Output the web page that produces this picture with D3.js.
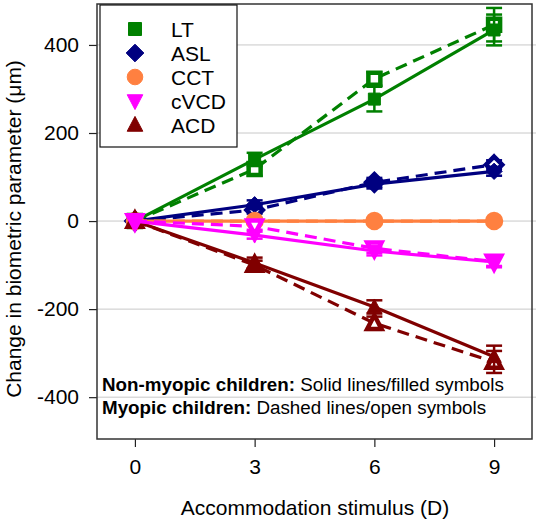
<!DOCTYPE html>
<html><head><meta charset="utf-8">
<script src="https://cdn.jsdelivr.net/npm/d3@7"></script>
<style>body{margin:0;background:#fff}svg{display:block}text{font-family:Arial,"Liberation Sans",sans-serif}</style>
</head><body><svg id="c" width="536" height="521"></svg>
<script>
const stimulus = [0, 3, 6, 9];
const seriesNames = ["LT", "ASL", "CCT", "cVCD", "ACD"];
const seriesColors = ["#008000", "#000080", "#FF8040", "#FF00FF", "#800000"];
const seriesSymbols = ["square", "diamond", "circle", "down", "up"];
// non-myopic (solid, filled)
const ltNon = [0, 140, 277, 434];
const aslNon = [0, 37, 84, 113];
const cctNon = [0, 0, 0, 0];
const cvcdNon = [0, -32, -68, -93];
const acdNon = [0, -95, -195, -308];
const ltNonErr = [0, 15, 28, 35];
const aslNonErr = [0, 10, 10, 10];
const cctNonErr = [0, 2, 2, 2];
const cvcdNonErr = [0, 8, 10, 12];
const acdNonErr = [0, 12, 15, 25];
// myopic (dashed, open)
const ltMyo = [0, 118, 323, 446];
const aslMyo = [0, 25, 88, 128];
const cctMyo = [0, 0, 0, 0];
const cvcdMyo = [0, -12, -62, -92];
const acdMyo = [0, -100, -232, -320];
const ltMyoErr = [0, 15, 15, 38];
const aslMyoErr = [0, 8, 10, 10];
const cctMyoErr = [0, 2, 2, 2];
const cvcdMyoErr = [0, 8, 10, 10];
const acdMyoErr = [0, 10, 15, 25];
const yTicks = [-400, -200, 0, 200, 400];

const nonVals = [ltNon, aslNon, cctNon, cvcdNon, acdNon];
const nonErrs = [ltNonErr, aslNonErr, cctNonErr, cvcdNonErr, acdNonErr];
const myoVals = [ltMyo, aslMyo, cctMyo, cvcdMyo, acdMyo];
const myoErrs = [ltMyoErr, aslMyoErr, cctMyoErr, cvcdMyoErr, acdMyoErr];

const svg = d3.select("#c");
const L = 97, R = 532, T = 4, B = 439;
const x = d3.scaleLinear().domain([-0.95, 9.95]).range([L, R]);
const y = d3.scaleLinear().domain([-495, 493]).range([B, T]);

// gridlines
svg.append("g").selectAll("line").data(yTicks).join("line")
  .attr("x1", L).attr("x2", 536).attr("y1", d => y(d)).attr("y2", d => y(d))
  .attr("stroke", "#c8c8c8").attr("stroke-width", 1);

// axes
const yAxis = svg.append("g").attr("transform", `translate(${L},0)`)
  .call(d3.axisLeft(y).tickValues(yTicks).tickFormat(d => String(d)).tickSize(8).tickPadding(10));
const xAxis = svg.append("g").attr("transform", `translate(0,${B})`)
  .call(d3.axisBottom(x).tickValues(stimulus).tickFormat(d => String(d)).tickSize(8).tickPadding(12));
[yAxis, xAxis].forEach(a => {
  a.select(".domain").remove();
  a.selectAll("line").attr("stroke", "#222").attr("stroke-width", 1.2);
  a.selectAll("text").attr("font-size", 21).attr("fill", "#000");
});

function symPath(type, cx, cy, s) {
  const h = s / 2;
  if (type === "square") return `M${cx-h},${cy-h}h${s}v${s}h${-s}Z`;
  if (type === "diamond") { const d = s * 0.68; return `M${cx},${cy-d}L${cx+d},${cy}L${cx},${cy+d}L${cx-d},${cy}Z`; }
  if (type === "up") { const a = s * 0.6; return `M${cx},${cy-a*1.1}L${cx+a},${cy+a*0.8}L${cx-a},${cy+a*0.8}Z`; }
  if (type === "down") { const a = s * 0.6; return `M${cx},${cy+a*1.1}L${cx+a},${cy-a*0.8}L${cx-a},${cy-a*0.8}Z`; }
  return null;
}
function drawSym(g, type, cx, cy, s, color, open) {
  if (type === "circle") {
    g.append("circle").attr("cx", cx).attr("cy", cy).attr("r", s * 0.6)
      .attr("fill", open ? "#fff" : color).attr("stroke", color).attr("stroke-width", open ? 4 : 1);
  } else {
    g.append("path").attr("d", symPath(type, cx, cy, s))
      .attr("fill", open ? "#fff" : color).attr("stroke", color)
      .attr("stroke-width", open ? 4.5 : 1).attr("stroke-linejoin", "miter");
  }
}

const plot = svg.append("g");
const line = d3.line().x((d, i) => x(stimulus[i])).y(d => y(d));
const order = [0, 1, 2, 4, 3];
order.forEach(k => {
  const c = seriesColors[k];
  const g = plot.append("g");
  [[myoVals[k], myoErrs[k], true], [nonVals[k], nonErrs[k], false]].forEach(([vals, errs, open]) => {
    g.append("path").datum(vals).attr("d", line).attr("fill", "none")
      .attr("stroke", c).attr("stroke-width", 3.2)
      .attr("stroke-dasharray", open ? "12,7" : null);
    vals.forEach((v, i) => {
      if (errs[i] > 0) {
        const cx = x(stimulus[i]);
        g.append("line").attr("x1", cx).attr("x2", cx).attr("y1", y(v - errs[i])).attr("y2", y(v + errs[i]))
          .attr("stroke", c).attr("stroke-width", 2.5);
        [v - errs[i], v + errs[i]].forEach(e => g.append("line").attr("x1", cx - 8).attr("x2", cx + 8)
          .attr("y1", y(e)).attr("y2", y(e)).attr("stroke", c).attr("stroke-width", 2.5));
      }
      drawSym(g, seriesSymbols[k], x(stimulus[i]), y(v), 12, c, open);
    });
  });
});

// plot frame
svg.append("rect").attr("x", L).attr("y", T).attr("width", R - L).attr("height", B - T)
  .attr("fill", "none").attr("stroke", "#333").attr("stroke-width", 1.5);

// legend
const lg = svg.append("g");
lg.append("rect").attr("x", 100).attr("y", 5).attr("width", 137).attr("height", 142)
  .attr("fill", "#fff").attr("stroke", "#111").attr("stroke-width", 1.2);
seriesNames.forEach((n, i) => {
  const cy = 29 + i * 24;
  drawSym(lg, seriesSymbols[i], 135, cy, 13, seriesColors[i], false);
  lg.append("text").attr("x", 171).attr("y", cy).attr("dy", "0.36em").attr("font-size", 21).text(n);
});

// annotation
const ann = svg.append("g").attr("font-size", 18.8);
const t1 = ann.append("text").attr("x", 102).attr("y", 391);
t1.append("tspan").attr("font-weight", "bold").text("Non-myopic children: ");
t1.append("tspan").text("Solid lines/filled symbols");
const t2 = ann.append("text").attr("x", 102).attr("y", 414);
t2.append("tspan").attr("font-weight", "bold").text("Myopic children: ");
t2.append("tspan").text("Dashed lines/open symbols");

// axis titles
svg.append("text").attr("x", 315).attr("y", 515).attr("text-anchor", "middle").attr("font-size", 21)
  .text("Accommodation stimulus (D)");
svg.append("text").attr("transform", "translate(21,229) rotate(-90)").attr("text-anchor", "middle")
  .attr("font-size", 21).text("Change in biometric parameter (μm)");
</script></body></html>
